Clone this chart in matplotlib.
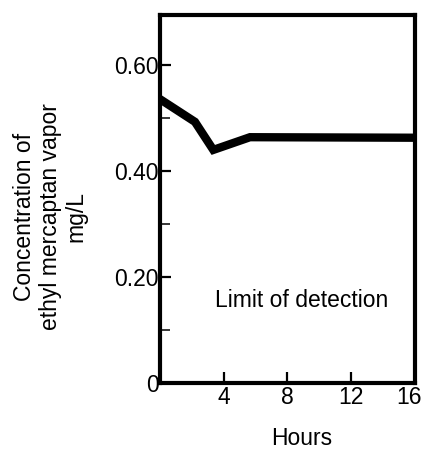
import matplotlib
matplotlib.use("Agg")
import matplotlib.pyplot as plt
import matplotlib.transforms as mtransforms
from matplotlib.ticker import FixedLocator

plt.rcParams["font.family"] = ["Liberation Sans", "DejaVu Sans"]

# values
hours = [0, 2.2, 3.35, 5.65, 16]
conc = [0.536, 0.493, 0.44, 0.464, 0.463]

x_ticks = [4, 8, 12, 16]
y_ticks = [0, 0.2, 0.4, 0.6]
y_labels = ["0", "0.20", "0.40", "0.60"]
y_minor = [0.1, 0.3, 0.5]

fs = 16.5

fig = plt.figure(figsize=(4.24, 4.5), dpi=100)
ax = fig.add_axes([0.377, 0.149, 0.602, 0.818])

ax.plot(hours, conc, color="black", linewidth=6, solid_joinstyle="miter",
        solid_capstyle="butt")

ax.set_xlim(0, 16)
ax.set_ylim(0, 0.695)

ax.set_xticks(x_ticks)
ax.set_yticks(y_ticks)
ax.set_yticklabels(y_labels)
ax.yaxis.set_minor_locator(FixedLocator(y_minor))

for s in ax.spines.values():
    s.set_linewidth(3)

ax.tick_params(axis="both", which="major", direction="in", length=8, width=1.6,
               labelsize=fs, colors="black")
ax.tick_params(axis="y", which="major", pad=1)
ax.tick_params(axis="x", which="major", pad=2)
ax.tick_params(axis="y", which="minor", direction="in", length=7, width=1.1)

# the last x label sits a little left of its tick, inside the figure
last = ax.get_xticklabels()[-1]
last.set_transform(last.get_transform() +
                   mtransforms.ScaledTranslation(-6 / 100, 0, fig.dpi_scale_trans))

ax.text(8.9, 0.143, "Limit of detection", fontsize=fs, ha="center", va="baseline")

ax.set_ylabel("Concentration of\nethyl mercaptan vapor\nmg/L", fontsize=fs,
              linespacing=1.17)
ax.yaxis.set_label_coords(-0.282, 0.452)
ax.set_xlabel("Hours", fontsize=fs)
ax.xaxis.set_label_coords(0.557, -0.12)

fig.savefig("out.png", dpi=100)
